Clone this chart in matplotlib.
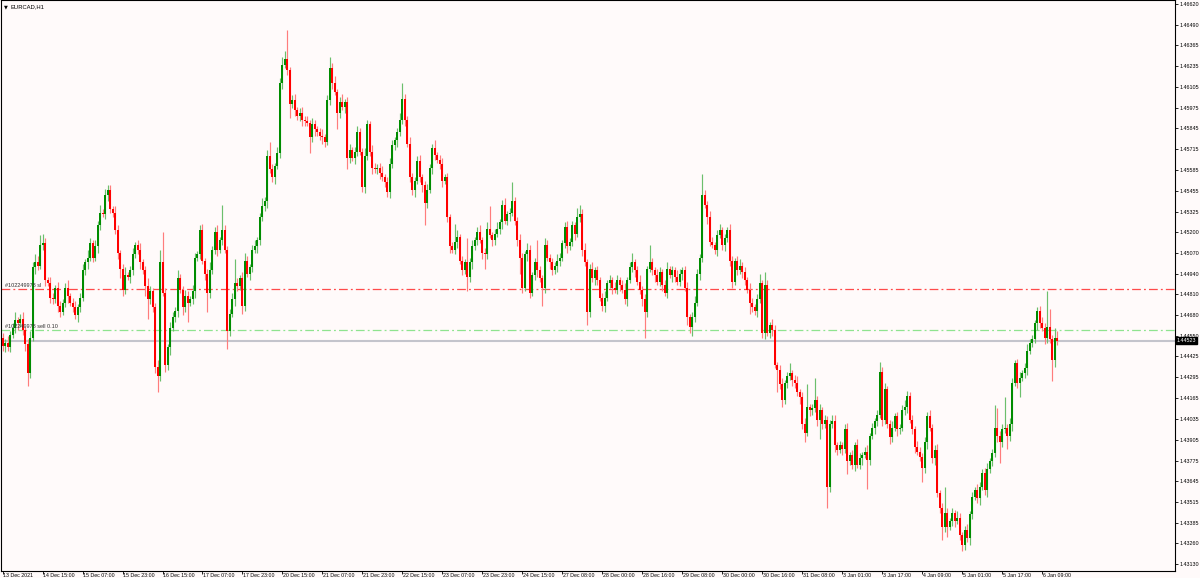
import matplotlib
matplotlib.use("Agg")
import matplotlib.pyplot as plt
from matplotlib.transforms import blended_transform_factory

# ---------------- data (EURCAD H1) ----------------
first_open = 1.4454
closes = [
    1.4449, 1.4451, 1.4448, 1.4456, 1.4460, 1.4465, 1.4463, 1.4466, 1.4459, 1.4450,
    1.4432, 1.4454, 1.4498, 1.4501, 1.4499, 1.4512, 1.4513, 1.4490, 1.4488, 1.4479,
    1.4478, 1.4485, 1.4474, 1.4470, 1.4476, 1.4485, 1.4480, 1.4476, 1.4473, 1.4468,
    1.4473, 1.4479, 1.4496, 1.4501, 1.4504, 1.4513, 1.4504, 1.4511, 1.4524, 1.4532,
    1.4531, 1.4543, 1.4546, 1.4534, 1.4532, 1.4521, 1.4507, 1.4497, 1.4484, 1.4493,
    1.4492, 1.4496, 1.4506, 1.4512, 1.4509, 1.4501, 1.4496, 1.4486, 1.4478, 1.4483,
    1.4473, 1.4436, 1.4430, 1.4501, 1.4482, 1.4437, 1.4448, 1.4460, 1.4467, 1.4471,
    1.4491, 1.4484, 1.4473, 1.4480, 1.4476, 1.4478, 1.4483, 1.4504, 1.4506, 1.4521,
    1.4502, 1.4494, 1.4482, 1.4496, 1.4509, 1.4520, 1.4509, 1.4515, 1.4521, 1.4509,
    1.4458, 1.4469, 1.4478, 1.4488, 1.4486, 1.4491, 1.4474, 1.4502, 1.4494, 1.4498,
    1.4509, 1.4511, 1.4515, 1.4529, 1.4536, 1.4539, 1.4567, 1.4559, 1.4554, 1.4561,
    1.4569, 1.4613, 1.4624, 1.4628, 1.4621, 1.4600, 1.4602, 1.4596, 1.4592, 1.4594,
    1.4590, 1.4589, 1.4588, 1.4579, 1.4587, 1.4584, 1.4582, 1.4580, 1.4579, 1.4576,
    1.4602, 1.4622, 1.4613, 1.4607, 1.4594, 1.4601, 1.4598, 1.4601, 1.4566, 1.4571,
    1.4566, 1.4570, 1.4582, 1.4570, 1.4548, 1.4567, 1.4587, 1.4570, 1.4560, 1.4559,
    1.4560, 1.4557, 1.4554, 1.4551, 1.4545, 1.4562, 1.4574, 1.4577, 1.4582, 1.4590,
    1.4603, 1.4590, 1.4575, 1.4554, 1.4546, 1.4552, 1.4564, 1.4554, 1.4549, 1.4538,
    1.4546, 1.4560, 1.4572, 1.4568, 1.4565, 1.4562, 1.4552, 1.4554, 1.4529, 1.4511,
    1.4509, 1.4514, 1.4517, 1.4502, 1.4496, 1.4501, 1.4492, 1.4501, 1.4511, 1.4515,
    1.4520, 1.4515, 1.4507, 1.4506, 1.4522, 1.4518, 1.4515, 1.4519, 1.4522, 1.4526,
    1.4537, 1.4527, 1.4531, 1.4532, 1.4539, 1.4527, 1.4515, 1.4504, 1.4485, 1.4506,
    1.4509, 1.4482, 1.4493, 1.4501, 1.4496, 1.4491, 1.4485, 1.4512, 1.4504, 1.4501,
    1.4496, 1.4499, 1.4502, 1.4504, 1.4513, 1.4523, 1.4511, 1.4514, 1.4524, 1.4519,
    1.4529, 1.4531, 1.4509, 1.4501, 1.4470, 1.4497, 1.4491, 1.4496, 1.4490, 1.4479,
    1.4474, 1.4479, 1.4488, 1.4490, 1.4485, 1.4484, 1.4490, 1.4487, 1.4484, 1.4478,
    1.4490, 1.4498, 1.4501, 1.4496, 1.4489, 1.4484, 1.4478, 1.4470, 1.4497, 1.4501,
    1.4496, 1.4493, 1.4489, 1.4495, 1.4487, 1.4482, 1.4497, 1.4493, 1.4496, 1.4492,
    1.4489, 1.4494, 1.4496, 1.4485, 1.4467, 1.4461, 1.4467, 1.4476, 1.4494, 1.4504,
    1.4543, 1.4537, 1.4529, 1.4514, 1.4512, 1.4509, 1.4518, 1.4521, 1.4512, 1.4516,
    1.4521, 1.4502, 1.4489, 1.4502, 1.4496, 1.4499, 1.4495, 1.4490, 1.4484, 1.4476,
    1.4473, 1.4471, 1.4478, 1.4488, 1.4457, 1.4487, 1.4457, 1.4462, 1.4459, 1.4437,
    1.4434, 1.4425, 1.4415, 1.4426, 1.4430, 1.4432, 1.4428, 1.4426, 1.4420, 1.4417,
    1.4400, 1.4395, 1.4411, 1.4409, 1.4410, 1.4415, 1.4403, 1.4409, 1.4400, 1.4403,
    1.4361, 1.4400, 1.4402, 1.4387, 1.4384, 1.4387, 1.4385, 1.4397, 1.4377, 1.4381,
    1.4375, 1.4387, 1.4375, 1.4379, 1.4381, 1.4383, 1.4378, 1.4393, 1.4398, 1.4402,
    1.4406, 1.4433, 1.4403, 1.4422, 1.4400, 1.4392, 1.4398, 1.4405, 1.4397, 1.4398,
    1.4409, 1.4411, 1.4418, 1.4403, 1.4397, 1.4386, 1.4383, 1.4380, 1.4373, 1.4389,
    1.4405, 1.4398, 1.4379, 1.4384, 1.4357, 1.4348, 1.4336, 1.4345, 1.4336, 1.4340,
    1.4345, 1.4340, 1.4342, 1.4331, 1.4325, 1.4334, 1.4329, 1.4344, 1.4355, 1.4359,
    1.4354, 1.4361, 1.4370, 1.4359, 1.4372, 1.4377, 1.4382, 1.4398, 1.4393, 1.4389,
    1.4397, 1.4398, 1.4393, 1.4400, 1.4426, 1.4438, 1.4426, 1.4429, 1.4432, 1.4435,
    1.4446, 1.4451, 1.4453, 1.4463, 1.4471, 1.4463, 1.4460, 1.4454, 1.4461, 1.4453,
    1.4440, 1.4454, 1.44523,
]

# upper / lower shadow lengths in pips (0.0001)
wick_up_pips = (
    [3,2,4,2,3,5,2,3,4,2, 3,4,3,5,4,6,6,3,2,4]
    + [3,2,4,3,2,3,5,2,3,4, 2,3,4,2,5,3,2,4,3,5]
    + [2,4,3,3,2,4,3,2,3,5, 2,3,4,2,3,4,2,3,5,3]
    + [2,3,4,8,19,3,2,4,3,2, 5,3,2,4,3,2,4,3,2,3]
    + [4,2,3,5,2,3,4,2,16,3, 2,3,4,15,3,2,4,5,3,2]
    + [3,4,2,3,5,3,4,9,3,2, 4,3,5,5,18,2,3,4,2,3]
    + [4,2,3,2,4,3,2,3,4,2, 3,7,3,4,2,3,5,2,3,4]
    + [2,3,4,3,2,5,3,2,4,3, 2,3,4,2,3,4,3,2,3,4]
    + [10,3,2,4,3,2,3,4,2,3, 4,2,3,5,2,3,4,2,3,2]
    + [3,11,4,2,3,2,15,3,4,2, 3,4,2,3,4,14,2,3,4,2]
    + [3,4,2,3,12,3,2,4,3,2, 4,3,2,3,14,3,2,4,3,2]
    + [3,2,4,3,2,3,4,2,3,2, 6,6,3,4,2,3,4,2,3,2]
    + [3,4,2,3,2,4,3,2,3,4, 2,3,6,2,3,4,2,3,2,11]
    + [3,2,4,3,2,3,4,2,3,2, 4,3,2,3,4,2,3,4,3,2]
    + [13,3,2,4,3,2,3,4,2,3, 2,4,3,2,3,4,2,3,2,4]
    + [3,2,3,6,2,8,3,2,4,3, 2,3,4,2,3,6,2,3,4,2]
    + [3,4,14,2,3,14,3,4,2,3, 2,3,4,4,2,3,2,3,4,2]
    + [3,2,4,3,2,3,4,2,3,2, 3,6,3,4,2,3,4,2,3,2]
    + [3,4,3,2,3,2,4,3,2,3, 3,4,2,3,4,2,3,16,3,2]
    + [3,2,4,3,2,3,4,2,3,2, 4,3,2,3,4,2,3,14,12,3]
    + [3,19,2,4,3,2,3,4,2,3, 4,2,3,2,2,3,4,3,22,11, 3,6,4]
)
wick_dn_pips = (
    [3,4,2,3,2,3,4,2,3,4, 8,3,2,4,3,2,3,4,2,3]
    + [3,2,4,3,2,3,4,2,3,2, 4,3,2,3,4,2,3,2,4,3]
    + [2,3,4,2,3,2,4,6,4,3, 2,4,3,2,3,4,2,6,12,3]
    + [3,4,10,3,2,4,3,5,2,3, 4,2,5,3,12,2,3,4,2,3]
    + [2,4,12,3,2,3,4,2,3,2, 11,3,2,4,3,2,5,3,2,4]
    + [3,2,4,3,2,3,4,2,3,4, 2,3,4,2,3,9,3,4,2,3]
    + [4,3,2,10,3,4,2,3,4,3, 2,3,4,2,10,3,2,4,7,3]
    + [2,4,3,2,3,4,2,3,4,2, 3,4,2,3,3,4,2,3,4,2]
    + [3,4,2,3,3,4,2,3,4,14, 3,2,4,3,2,3,4,2,3,4]
    + [2,3,4,2,3,2,9,3,4,2, 3,2,4,9,3,2,4,3,2,3]
    + [4,2,3,4,2,3,4,10,3,2, 4,3,2,3,4,2,11,3,2,4]
    + [3,2,4,3,2,3,4,2,3,4, 2,3,4,2,8,3,2,4,3,2]
    + [3,4,2,3,4,2,3,4,2,3, 4,2,3,4,2,3,4,16,3,2]
    + [3,4,2,3,4,2,3,2,4,3, 2,3,4,2,5,4,6,3,2,4]
    + [3,2,4,3,2,3,4,2,3,4, 2,3,4,2,3,2,4,3,2,7]
    + [3,3,4,2,3,4,2,3,4,2, 14,3,4,2,3,2,4,3,2,4]
    + [3,6,2,4,3,2,4,12,3,2, 13,3,2,4,3,2,4,3,8,2]
    + [3,4,2,3,4,2,18,3,2,4, 3,2,4,3,2,4,3,2,4,3]
    + [2,3,4,2,3,4,2,3,9,3, 4,2,3,4,2,3,8,3,6,2]
    + [3,4,2,3,4,3,2,4,3,2, 3,4,2,3,4,2,3,2,4,13]
    + [3,2,8,3,4,2,3,9,2,3, 4,2,3,2,4,3,2,4,3,2, 13,4,3]
)

time_labels = [
    "13 Dec 2021", "14 Dec 15:00", "15 Dec 07:00", "15 Dec 23:00", "16 Dec 15:00",
    "17 Dec 07:00", "17 Dec 23:00", "20 Dec 15:00", "21 Dec 07:00", "21 Dec 23:00",
    "22 Dec 15:00", "23 Dec 07:00", "23 Dec 23:00", "24 Dec 15:00", "27 Dec 08:00",
    "28 Dec 00:00", "28 Dec 16:00", "29 Dec 08:00", "30 Dec 00:00", "30 Dec 16:00",
    "31 Dec 08:00", "3 Jan 01:00", "3 Jan 17:00", "4 Jan 09:00", "5 Jan 01:00",
    "5 Jan 17:00", "6 Jan 09:00",
]
bars_per_label = 16

price_ticks = [
    1.46620, 1.46490, 1.46365, 1.46235, 1.46105, 1.45975, 1.45845, 1.45715,
    1.45585, 1.45455, 1.45325, 1.45200, 1.45070, 1.44940, 1.44810, 1.44680,
    1.44550, 1.44425, 1.44295, 1.44165, 1.44035, 1.43905, 1.43775, 1.43645,
    1.43515, 1.43385, 1.43260, 1.43130,
]

symbol = "EURCAD,H1"
sl_price = 1.44844
sl_text = "#102249978 sl"
entry_price = 1.44588
entry_text = "#102249978 sell 0.10"
bid_price = 1.44523

# ---------------- drawing ----------------
BG = "#fffafa"
BULL, BEAR = "#008c00", "#ff0000"
BULL_W, BEAR_W = "#6cbf6c", "#ff7c7c"
FONT = ["Liberation Sans", "DejaVu Sans"]

n = len(closes)
def fit(lst):
    lst = list(lst)[:n]
    return lst + [2] * (n - len(lst))
wu = fit(wick_up_pips)
wd = fit(wick_dn_pips)

opens = [first_open] + closes[:-1]
highs = [max(o, c) + u * 1e-4 for o, c, u in zip(opens, closes, wu)]
lows = [min(o, c) - d * 1e-4 for o, c, d in zip(opens, closes, wd)]

fig = plt.figure(figsize=(12, 5.78), dpi=100, facecolor=BG)
ax = fig.add_axes([0.6 / 1200, 7 / 578, 1174.4 / 1200, 571 / 578])
ax.set_facecolor(BG)

xs = list(range(n))
up = [c >= o for o, c in zip(opens, closes)]

# horizontal order / price lines (behind candles)
ax.axhline(bid_price, color="#c4c4cc", lw=1.5, zorder=1)
ax.axhline(sl_price, color="#ff4a4a", lw=0.9, ls=(0, (7, 2.5, 1.5, 2.5)), zorder=1)
ax.axhline(entry_price, color="#8fe38f", lw=0.9, ls=(0, (7, 2.5, 1.5, 2.5)), zorder=1)

# wicks
for up_flag, wc in ((True, BULL_W), (False, BEAR_W)):
    xi = [x for x, f in zip(xs, up) if f == up_flag]
    ax.vlines(xi, [lows[i] for i in xi], [highs[i] for i in xi],
              color=wc, lw=0.85, zorder=2)
# bodies
for up_flag, bc in ((True, BULL), (False, BEAR)):
    xi = [x for x, f in zip(xs, up) if f == up_flag]
    bottoms = [min(opens[i], closes[i]) for i in xi]
    heights = [max(abs(closes[i] - opens[i]), 0.00004) for i in xi]
    ax.bar(xi, heights, bottom=bottoms, width=0.8, color=bc, linewidth=0, zorder=3)

x_left = -0.8
x_right = (1175 - 2) / 2.5
ax.set_xlim(x_left, x_right)
ax.set_ylim(1.43087, 1.46645)

for s in ax.spines.values():
    s.set_color("#000000")
    s.set_linewidth(0.8)

# price axis on the right
ax.yaxis.tick_right()
ax.set_yticks(price_ticks)
ax.set_yticklabels([f"{v:.5f}" for v in price_ticks], fontsize=3.9, family=FONT)
ax.tick_params(axis="y", length=2.2, width=0.6, pad=1.2, colors="black")

# time axis
label_bars = [k * bars_per_label for k in range(len(time_labels))]
ax.set_xticks(label_bars)
ax.set_xticklabels([])
ax.tick_params(axis="x", length=2.0, width=0.6, colors="black")
trans = blended_transform_factory(ax.transData, ax.transAxes)
for b, lbl in zip(label_bars, time_labels):
    ax.text(b + 0.3, -0.0035, lbl, transform=trans, ha="left", va="top",
            fontsize=3.8, family=FONT, color="black", clip_on=False)

# title
ax.text(0.0025, 0.992, "\u25BC", transform=ax.transAxes, ha="left", va="top",
        fontsize=3.6, family=["DejaVu Sans"], color="black")
ax.text(0.0085, 0.993, symbol, transform=ax.transAxes, ha="left", va="top",
        fontsize=4.2, family=FONT, color="black")

# order labels
tr2 = blended_transform_factory(ax.transAxes, ax.transData)
ax.text(0.004, sl_price + 0.00004, sl_text, transform=tr2, ha="left", va="bottom",
        fontsize=4.0, family=FONT, color="#333333", zorder=4)
ax.text(0.004, entry_price + 0.00004, entry_text, transform=tr2, ha="left", va="bottom",
        fontsize=4.0, family=FONT, color="#333333", zorder=4)

# current bid tag
ax.text(1.0015, bid_price, f"{bid_price:.5f}", transform=tr2, ha="left", va="center",
        fontsize=3.9, family=FONT, color="white", clip_on=False, zorder=10,
        bbox=dict(boxstyle="square,pad=0.22", fc="black", ec="black"))

fig.savefig("out.png", dpi=100, facecolor=BG)
